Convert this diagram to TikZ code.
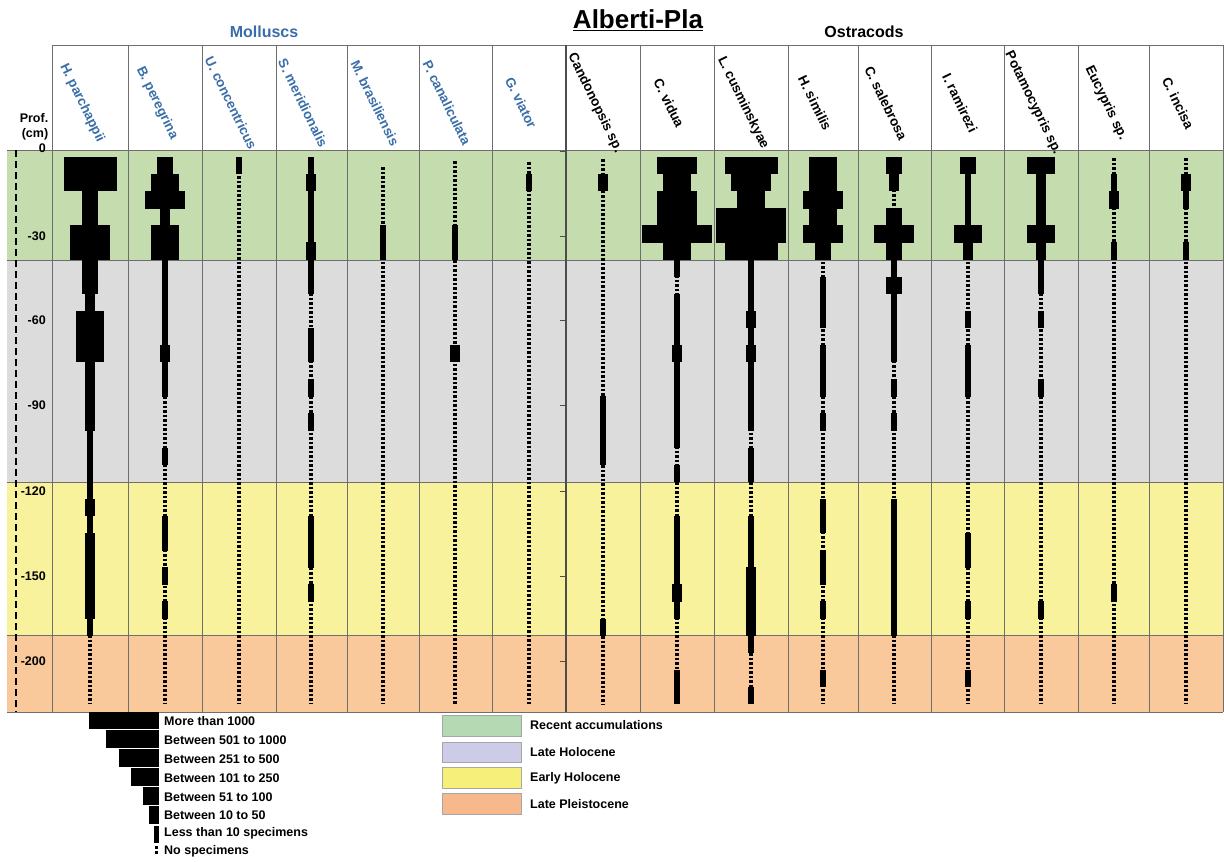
\documentclass[tikz,border=0pt]{standalone}
\usepackage{fontspec}
\setmainfont{Liberation Sans}
\definecolor{bgreen}{HTML}{C5DCAF}
\definecolor{bgray}{HTML}{DCDCDC}
\definecolor{byellow}{HTML}{F7F29B}
\definecolor{borange}{HTML}{F9C99B}
\definecolor{lgreen}{HTML}{B5D9B2}
\definecolor{lviolet}{HTML}{CDCCE8}
\definecolor{lyellow}{HTML}{F6F07A}
\definecolor{lorange}{HTML}{F7B98B}
\definecolor{mblue}{HTML}{3A6EA8}
\definecolor{gridc}{HTML}{6E6E6E}
\tikzset{
  gridline/.style={draw=gridc, line width=0.8pt},
  dotline/.style={line width=3.2pt, dash pattern=on 2.6pt off 1.9pt},
  axisline/.style={line width=2.5pt, dash pattern=on 7pt off 4pt},
  splabel/.style={rotate=-64, font=\fontsize{13.5}{16}\selectfont\bfseries, inner sep=0pt},
  deplabel/.style={anchor=east, font=\fontsize{12.5}{15}\selectfont\bfseries, inner sep=0pt},
  legtext/.style={anchor=west, font=\fontsize{12.5}{15}\selectfont\bfseries, inner sep=0pt},
  perbox/.style={draw=gray!70, line width=1pt},
}
\begin{document}
\begin{tikzpicture}[x=1pt,y=-1pt]
\useasboundingbox (0,0) rectangle (1224,862);
% bands
\fill[bgreen] (7,150) rectangle (1223,260);
\fill[bgray] (7,260) rectangle (1223,482);
\fill[byellow] (7,482) rectangle (1223,635);
\fill[borange] (7,635) rectangle (1223,712);
% horizontal grid lines
\draw[gridline] (52,45) -- (1223,45);
\foreach \yy in {150,260,482,635,712} \draw[gridline] (7,\yy) -- (1223,\yy);
% vertical grid lines
\foreach \xx in {52,128,202,276,347,419,492,640,714,788,858,931,1004,1078,1149,1223}
  \draw[gridline] (\xx,45) -- (\xx,712);
\draw[draw=gridc!70!black, line width=1.2pt] (566,45) -- (566,712);
\foreach \yy in {151,236,320,405,491,576,661} \draw[gridc!70!black, line width=1pt] (560,\yy) -- (566,\yy);
% depth axis
\draw[axisline] (16,150) -- (16,712);
\node[deplabel] (d0) at (46,148) {0};
\node[deplabel] (d30) at (46,236) {-30};
\node[deplabel] (d60) at (46,320) {-60};
\node[deplabel] (d90) at (46,405) {-90};
\node[deplabel] (d120) at (46,491) {-120};
\node[deplabel] (d150) at (46,576) {-150};
\node[deplabel] (d200) at (46,661) {-200};
\node[font=\fontsize{12.5}{15}\selectfont\bfseries, inner sep=0pt] (prof) at (34,118) {Prof.};
\node[font=\fontsize{12.5}{15}\selectfont\bfseries, inner sep=0pt] (cm) at (35,134) {(cm)};
% titles
\node[font=\fontsize{26}{30}\selectfont\bfseries, inner sep=0pt] (title) at (638,20) {\underline{Alberti-Pla}};
\node[font=\fontsize{16}{19}\selectfont\bfseries, text=mblue, inner sep=0pt] (moll) at (264,32) {Molluscs};
\node[font=\fontsize{16}{19}\selectfont\bfseries, inner sep=0pt] (ostr) at (864,32) {Ostracods};
% species labels
\foreach \cx/\nm/\cl [count=\k] in {
  90/H. parchappii/mblue, 165/B. peregrina/mblue, 239/U. concentricus/mblue,
  311/S. meridionalis/mblue, 383/M. brasiliensis/mblue, 455/P. canaliculata/mblue,
  529/G. viator/mblue, 603/Candonopsis sp./black, 677/C. vidua/black,
  751/L. cusminskyae/black, 823/H. similis/black, 894/C. salebrosa/black,
  968/I. ramirezi/black, 1041/Potamocypris sp./black, 1114/Eucypris sp./black,
  1186/C. incisa/black}
  \node[splabel, text=\cl] (sp\k) at (\cx-8,103) {\nm};
% abundance columns
\foreach \cx/\ys/\data in {
  90/158/{6,6,3,3,5,5,3,3,2,4,4,4,2,2,2,2,1,1,1,1,2,1,2,2,2,2,2,1,0,0,0,0},
  165/158/{3,4,5,2,4,4,1,1,1,1,1,2,1,1,0,0,0,1,0,0,0,1,1,0,1,0,1,0,0,0,0,0},
  239/158/{1,0,0,0,0,0,0,0,0,0,0,0,0,0,0,0,0,0,0,0,0,0,0,0,0,0,0,0,0,0,0,0},
  311/158/{1,2,1,1,1,2,1,1,0,0,1,1,0,1,0,1,0,0,0,0,0,1,1,1,0,1,0,0,0,0,0,0},
  383/167/{0,0,0,0,1,1,0,0,0,0,0,0,0,0,0,0,0,0,0,0,0,0,0,0,0,0,0,0,0,0,0,0},
  455/161/{0,0,0,0,1,1,0,0,0,0,0,2,0,0,0,0,0,0,0,0,0,0,0,0,0,0,0,0,0,0,0,0},
  529/162/{0,1,0,0,0,0,0,0,0,0,0,0,0,0,0,0,0,0,0,0,0,0,0,0,0,0,0,0,0,0,0,0},
  603/159/{0,2,0,0,0,0,0,0,0,0,0,0,0,0,1,1,1,1,0,0,0,0,0,0,0,0,0,1,0,0,0,0},
  677/158/{5,4,5,5,7,4,1,0,1,1,1,2,1,1,1,1,1,0,1,0,0,1,1,1,1,2,1,0,0,0,1,1},
  751/158/{6,5,4,7,7,6,1,1,1,2,1,2,1,1,1,1,0,1,1,0,0,1,1,1,2,2,2,2,1,0,0,1},
  823/158/{4,4,5,4,5,3,0,1,1,1,0,1,1,1,0,1,0,0,0,0,1,1,0,1,1,0,1,0,0,0,1,0},
  894/158/{3,2,0,3,5,3,1,3,1,1,1,1,0,1,0,1,0,0,0,0,1,1,1,1,1,1,1,1,0,0,0,0},
  968/158/{3,1,1,1,4,2,0,0,0,1,0,1,1,1,0,0,0,0,0,0,0,0,1,1,0,0,1,0,0,0,1,0},
  1041/158/{4,2,2,2,4,2,1,1,0,1,0,0,0,1,0,0,0,0,0,0,0,0,0,0,0,0,1,0,0,0,0,0},
  1114/158/{0,1,2,0,0,1,0,0,0,0,0,0,0,0,0,0,0,0,0,0,0,0,0,0,0,1,0,0,0,0,0,0},
  1186/158/{0,2,1,0,0,1,0,0,0,0,0,0,0,0,0,0,0,0,0,0,0,0,0,0,0,0,0,0,0,0,0,0}}
{
  \draw[dotline] (\cx,\ys) -- (\cx,704);
  \foreach \v [count=\i from 0] in \data {
    \ifnum\v>0
      \pgfmathsetmacro\w{{0,5.5,9.5,16,28,40,53,70}[\v]}
      \fill ({\cx-\w/2},{157+17.1*\i-0.2}) rectangle ({\cx+\w/2},{157+17.1*(\i+1)+0.2});
    \fi
  }
}
% abundance legend
\fill (89,712) rectangle (159,728.5);
\fill (106,730) rectangle (159,747.5);
\fill (119,749) rectangle (159,766.5);
\fill (131,768) rectangle (159,785.5);
\fill (143,787) rectangle (159,804.5);
\fill (149,806) rectangle (159,823.5);
\fill (153.5,825.5) rectangle (159,843);
\fill (155,846) rectangle (157.5,848.5);
\fill (155,851) rectangle (157.5,853.5);
\node[legtext] (a7) at (164,721) {More than 1000};
\node[legtext] (a6) at (164,740) {Between 501 to 1000};
\node[legtext] (a5) at (164,759) {Between 251 to 500};
\node[legtext] (a4) at (164,778) {Between 101 to 250};
\node[legtext] (a3) at (164,797) {Between 51 to 100};
\node[legtext] (a2) at (164,815) {Between 10 to 50};
\node[legtext] (a1) at (164,833.5) {Less than 10 specimens};
\node[legtext] (a0) at (164,851.5) {No specimens};
% period legend
\filldraw[perbox, fill=lgreen] (442,715) rectangle (521,736);
\filldraw[perbox, fill=lviolet] (442,742) rectangle (521,762);
\filldraw[perbox, fill=lyellow] (442,767) rectangle (521,788);
\filldraw[perbox, fill=lorange] (442,793) rectangle (521,814);
\node[legtext] (p1) at (530,725) {Recent accumulations};
\node[legtext] (p2) at (530,752) {Late Holocene};
\node[legtext] (p3) at (530,778) {Early Holocene};
\node[legtext] (p4) at (530,804) {Late Pleistocene};
\end{tikzpicture}
\end{document}
